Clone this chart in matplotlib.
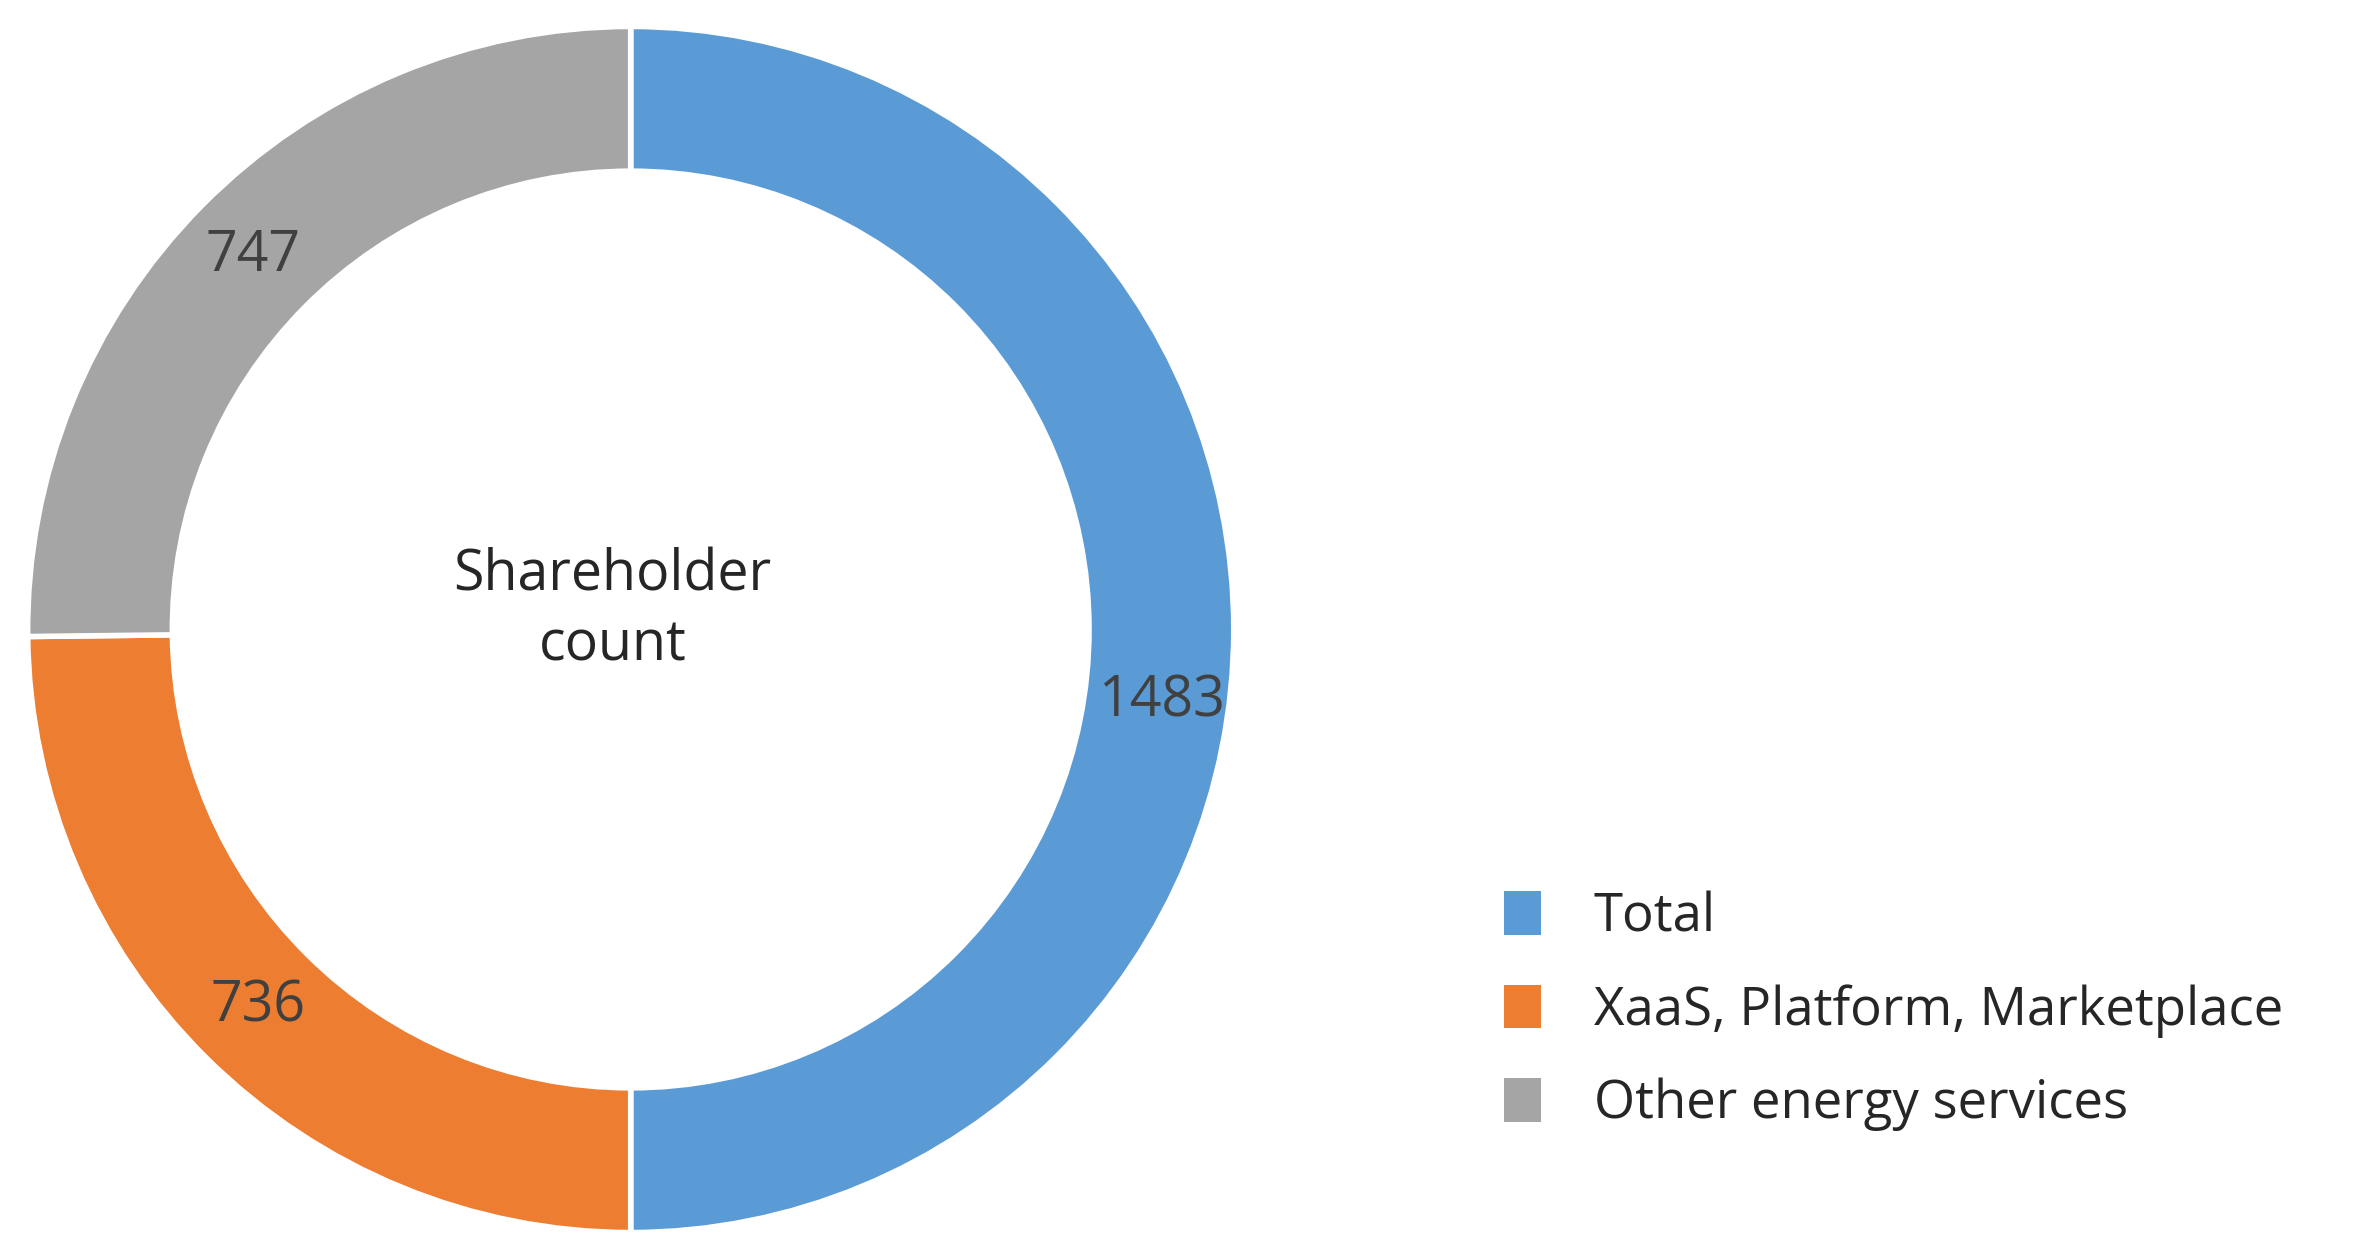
import matplotlib
matplotlib.use("Agg")
import matplotlib.pyplot as plt
import numpy as np
from matplotlib.patches import Patch

plt.rcParams['font.family'] = ['Open Sans', 'DejaVu Sans']

categories = ["Total", "XaaS, Platform, Marketplace", "Other energy services"]
values = [1483, 736, 747]
colors = ["#5B9BD5", "#ED7D31", "#A5A5A5"]

fig = plt.figure(figsize=(23.8, 12.59), dpi=100)
ax = fig.add_axes([0.265 - 0.2534, 0.5 - 0.479, 0.5068, 0.958])
wedges, _ = ax.pie(values, colors=colors, startangle=90, counterclock=False,
                   radius=1.0, wedgeprops=dict(width=0.24, edgecolor='white', linewidth=4))
ax.set_aspect('equal')
ax.set_xlim(-1, 1); ax.set_ylim(-1, 1)

for w, v in zip(wedges, values):
    ang = np.deg2rad((w.theta1 + w.theta2) / 2)
    r = 0.88
    x, y = r * np.cos(ang), r * np.sin(ang)
    if v == 1483:
        y -= 0.12
    ax.text(x, y, str(v), ha='center', va='center', fontsize=40, color='#404040')

ax.text(-0.03, 0.03, "Shareholder\ncount", ha='center', va='center', fontsize=40,
        color='#262626', linespacing=1.3)

handles = [Patch(facecolor=c, edgecolor='none') for c in colors]
fig.legend(handles, categories, loc='upper left', bbox_to_anchor=(0.612, 0.33),
           frameon=False, fontsize=38, labelcolor='#262626', handlelength=0.7,
           handleheight=0.9, handletextpad=1.0, labelspacing=0.75)

fig.savefig("out.png", dpi=100, facecolor='white')
